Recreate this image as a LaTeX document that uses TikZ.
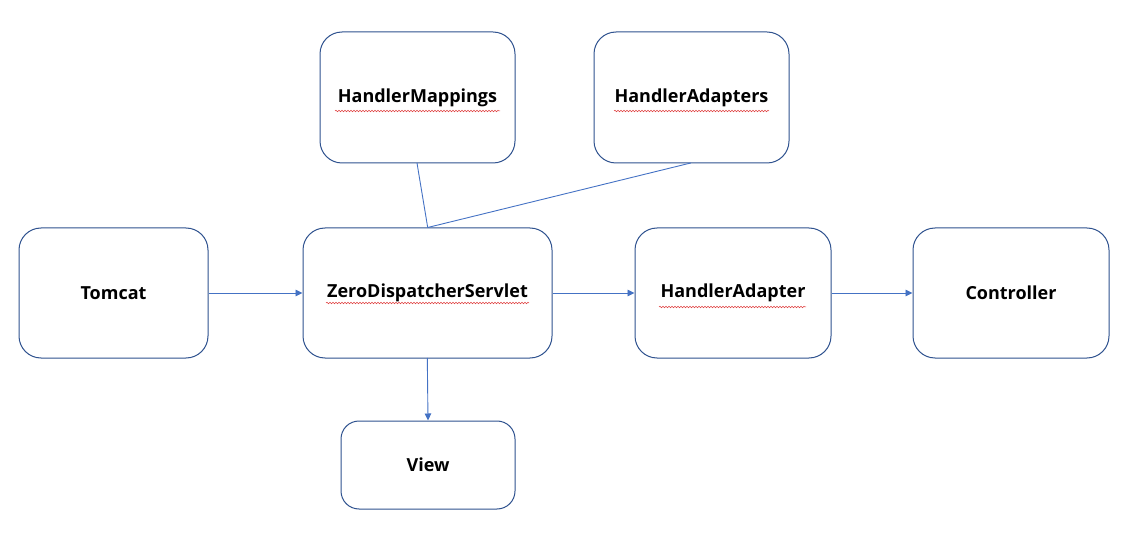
\documentclass[tikz,border=0pt]{standalone}
\usepackage{fontspec}
\setmainfont{Open Sans}
\usetikzlibrary{arrows.meta,decorations.pathmorphing}
\definecolor{boxblue}{HTML}{2F528F}
\definecolor{lineblue}{HTML}{4472C4}
\definecolor{squig}{HTML}{E04040}
\begin{document}
\begin{tikzpicture}[x=1pt,y=-1pt,
  box/.style={draw=boxblue,line width=1pt,rounded corners=22pt,fill=white,
    font=\bfseries\fontsize{18}{21}\selectfont,inner sep=0pt},
  conn/.style={draw=lineblue,line width=0.9pt},
  arr/.style={conn,-{Triangle[length=7pt,width=6.5pt]}},
  wavy/.style={draw=squig,line width=0.5pt,decorate,decoration={snake,amplitude=0.8pt,segment length=3pt}}]
\useasboundingbox (0,0) rectangle (1128,540);
\node[box,minimum width=195pt,minimum height=131pt] (hm) at (417.5,97.5) {HandlerMappings};
\node[box,minimum width=195pt,minimum height=131pt] (has) at (691.5,97.5) {HandlerAdapters};
\node[box,minimum width=189pt,minimum height=130pt] (tc) at (113.5,293) {Tomcat};
\node[box,minimum width=249pt,minimum height=130pt] (zds) at (427.5,293) {ZeroDispatcherServlet};
\node[box,minimum width=196pt,minimum height=130pt] (ha) at (733,293) {HandlerAdapter};
\node[box,minimum width=196pt,minimum height=130pt] (ct) at (1011,293) {Controller};
\node[box,minimum width=174pt,minimum height=88pt,rounded corners=18pt] (vw) at (428,465) {View};
\coordinate (j) at (427.7,227.5);
\draw[conn] (417,163) -- (j);
\draw[conn] (690.7,163) -- (j);
\draw[arr] (tc.east) -- (zds.west);
\draw[arr] (zds.east) -- (ha.west);
\draw[arr] (ha.east) -- (ct.west);
\draw[arr] (427.3,358) -- (vw.north);
\draw[wavy] (335,111) -- (500,111);
\draw[wavy] (614,111) -- (769,111);
\draw[wavy] (326,303) -- (529,303);
\draw[wavy] (659,307) -- (806,307);
\end{tikzpicture}
\end{document}
